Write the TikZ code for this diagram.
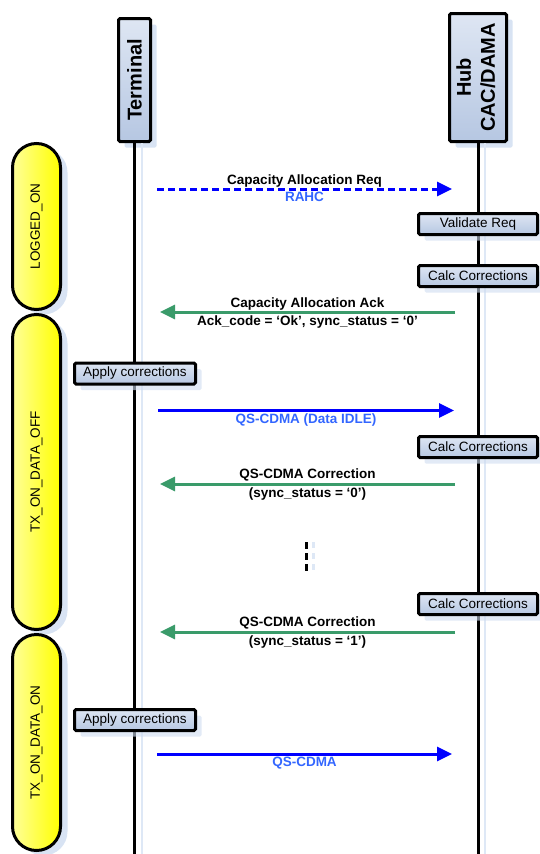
\documentclass[tikz,border=0pt]{standalone}
\usepackage{fontspec}
\setmainfont{Liberation Sans}
\usetikzlibrary{arrows.meta, positioning, shadows}

\definecolor{msgblue}{RGB}{0,0,255}
\definecolor{lblblue}{RGB}{51,102,255}
\definecolor{msggreen}{RGB}{58,155,106}
\definecolor{boxtop}{RGB}{222,230,243}
\definecolor{boxbot}{RGB}{182,199,226}
\definecolor{shade}{RGB}{206,220,240}
\definecolor{lineshade}{RGB}{222,232,246}

\begin{document}
\begin{tikzpicture}[x=1pt, y=-1pt,
    every node/.style={font=\fontsize{13.5}{16}\selectfont},
    actor/.style={draw, line width=3pt, rounded corners=1.5pt,
      top color=boxtop, bottom color=boxbot,
      font=\fontsize{20}{24}\selectfont\bfseries, inner sep=0pt,
      drop shadow={shadow xshift=6pt, shadow yshift=-6pt, fill=shade, opacity=0.8}},
    state/.style={draw, line width=3pt, rounded corners=24pt, minimum width=48pt,
      left color=yellow!40, middle color=yellow, right color=yellow,
      drop shadow={shadow xshift=7pt, shadow yshift=-5pt, fill=shade, opacity=0.8}},
    actbox/.style={draw, line width=3pt, rounded corners=1.5pt,
      top color=boxtop, bottom color=boxbot,
      minimum width=119pt, minimum height=21pt, inner sep=0pt,
      drop shadow={shadow xshift=6pt, shadow yshift=-6pt, fill=shade, opacity=0.6}},
    lifeline/.style={line width=3pt},
    lifeshade/.style={line width=2pt, lineshade},
    msg/.style={line width=3pt, -{Triangle[length=15pt,width=14pt]}},
    lbl/.style={inner sep=0pt, text=black, font=\fontsize{13.5}{16}\selectfont\bfseries},
    bluelbl/.style={lbl, text=lblblue}
  ]
  \useasboundingbox (0,0) rectangle (540,854);
  \coordinate (bottom) at (0,854);

  % Lifeline heads
  \node[actor, minimum width=32pt, minimum height=123pt] (term) at (134.5,80)
    {\rotatebox{90}{Terminal}};
  \node[actor, minimum width=57pt, minimum height=128pt] (hub) at (478,77.5)
    {\rotatebox{90}{\begin{tabular}{@{}c@{}}Hub\\CAC/DAMA\end{tabular}}};

  % Lifelines
  \draw[lifeshade] ([xshift=7pt]term.south) -- ([xshift=7pt]term.south |- bottom);
  \draw[lifeshade] ([xshift=7pt]hub.south) -- ([xshift=7pt]hub.south |- bottom);
  \draw[lifeline] (term.south) -- (term.south |- bottom);
  \draw[lifeline] (hub.south) -- (hub.south |- bottom);

  % States
  \node[state, minimum height=166pt] (logged) at (36.5,226.5) {\rotatebox{90}{LOGGED\_ON}};
  \node[state, minimum height=315pt] (dataoff) at (36.5,472) {\rotatebox{90}{TX\_ON\_DATA\_OFF}};
  \node[state, minimum height=216pt] (dataon) at (36.5,742.5) {\rotatebox{90}{TX\_ON\_DATA\_ON}};

  % Capacity allocation request
  \coordinate (req-t) at (157,189);
  \coordinate (req-h) at (452,189);
  \draw[msg, msgblue, dash pattern=on 7pt off 4pt] (req-t) -- (req-h)
    node[lbl, midway, above=0pt] {Capacity Allocation Req}
    node[bluelbl, midway, below=2pt] {RAHC};

  % Hub actions
  \node[actbox] (validate) at (478,224) {Validate Req};
  \node[actbox] (calc1) at (478,276) {Calc Corrections};

  % Capacity allocation ack
  \coordinate (ack-h) at (455,312);
  \coordinate (ack-t) at (160,312);
  \draw[msg, msggreen] (ack-h) -- (ack-t)
    node[lbl, midway, above=0pt] {Capacity Allocation Ack}
    node[lbl, midway, below=2pt] {Ack\_code = ‘Ok’, sync\_status = ‘0’};

  \node[actbox, minimum width=121pt] (apply1) at (135,373.5) {Apply corrections};

  % Data idle
  \coordinate (idle-t) at (158,410.5);
  \coordinate (idle-h) at (454,410.5);
  \draw[msg, msgblue] (idle-t) -- (idle-h)
    node[bluelbl, midway, below=2pt] {QS-CDMA (Data IDLE)};

  \node[actbox] (calc2) at (478,447) {Calc Corrections};

  \coordinate (cor1-h) at (455,484);
  \coordinate (cor1-t) at (160,484);
  \draw[msg, msggreen] (cor1-h) -- (cor1-t)
    node[lbl, midway, above=1pt] {QS-CDMA Correction}
    node[lbl, midway, below=2pt] {(sync\_status = ‘0’)};

  % Dots
  \foreach \y in {545,556,567} {
    \fill[lineshade] (311.5,\y-3) rectangle (314.5,\y+3);
    \fill (304.5,\y-3.5) rectangle (307.5,\y+3.5);
  }

  \node[actbox] (calc3) at (478,604) {Calc Corrections};

  \coordinate (cor2-h) at (455,632);
  \coordinate (cor2-t) at (160,632);
  \draw[msg, msggreen] (cor2-h) -- (cor2-t)
    node[lbl, midway, above=1pt] {QS-CDMA Correction}
    node[lbl, midway, below=2pt] {(sync\_status = ‘1’)};

  \node[actbox, minimum width=121pt] (apply2) at (135,720) {Apply corrections};

  % Data on
  \coordinate (data-t) at (157,754);
  \coordinate (data-h) at (452,754);
  \draw[msg, msgblue] (data-t) -- (data-h)
    node[bluelbl, midway, below=2pt] {QS-CDMA};
\end{tikzpicture}
\end{document}
